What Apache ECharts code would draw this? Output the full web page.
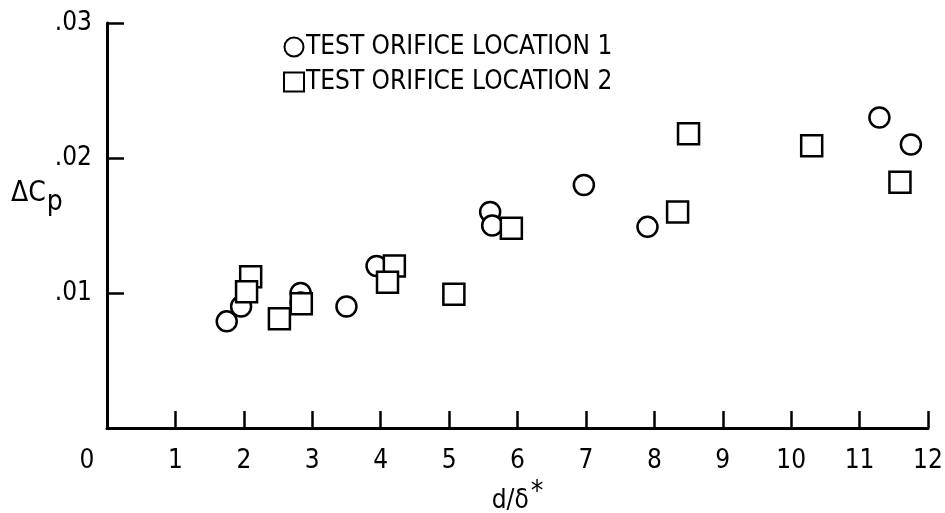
<!DOCTYPE html>
<html>
<head>
<meta charset="utf-8">
<script src="https://cdn.jsdelivr.net/npm/echarts@6/dist/echarts.min.js"></script>
<style>
  html, body { margin: 0; padding: 0; background: #fff; }
  #chart { width: 945px; height: 513px; }
</style>
</head>
<body>
<div id="chart"></div>
<script>
// test orifice location 1 (circles)
const loc1X = [1.75, 1.96, 2.83, 2.83, 3.5, 3.94, 5.6, 5.63, 6.97, 7.9, 11.29, 11.75]
const loc1Y = [0.0079, 0.0090, 0.0100, 0.0093, 0.0090, 0.0120, 0.0160, 0.0150, 0.0180, 0.0149, 0.0230, 0.0210]
// test orifice location 2 (squares)
const loc2X = [2.10, 2.04, 2.52, 2.84, 4.2, 4.1, 5.07, 5.91, 8.5, 8.34, 10.3, 11.59]
const loc2Y = [0.0112, 0.0101, 0.0081, 0.0092, 0.0120, 0.0108, 0.0099, 0.0148, 0.0218, 0.0160, 0.0209, 0.0182]
const seriesNames = ['TEST ORIFICE LOCATION 1', 'TEST ORIFICE LOCATION 2']

const font = '"Liberation Sans Narrow", "DejaVu Sans Condensed", sans-serif'
const pairs = (xs, ys) => xs.map((x, i) => [x, ys[i]])

const chart = echarts.init(document.getElementById('chart'))
const markStyle = { color: '#fff', borderColor: '#000', borderWidth: 2.5, opacity: 1 }

chart.setOption({
  backgroundColor: '#fff',
  animation: false,
  grid: { left: 107, right: 17, top: 23, bottom: 85, containLabel: false, outerBoundsMode: 'none' },
  legend: {
    orient: 'vertical',
    left: 278,
    top: 29,
    itemGap: 9,
    itemWidth: 20,
    itemHeight: 19,
    textStyle: { fontFamily: font, fontSize: 26, color: '#000', padding: [0, 0, 0, -3] },
    data: [
      { name: seriesNames[0], icon: 'circle' },
      { name: seriesNames[1], icon: 'rect' }
    ]
  },
  xAxis: {
    type: 'value',
    min: 0,
    max: 12,
    interval: 1,
    splitLine: { show: false },
    axisLine: { lineStyle: { color: '#000', width: 3 } },
    axisTick: { inside: true, length: 17, lineStyle: { color: '#000', width: 2.5 } },
    axisLabel: {
      margin: 20,
      color: '#000',
      fontFamily: font,
      fontSize: 26,
      formatter: v => v === 0 ? '{z|0}' : String(v),
      rich: { z: { fontFamily: font, fontSize: 26, color: '#000', padding: [0, 40, 0, 0] } }
    },
    name: 'd/δ{s|*}',
    nameLocation: 'middle',
    nameGap: 47,
    nameTextStyle: {
      fontFamily: font, fontSize: 26, color: '#000',
      rich: { s: { fontFamily: font, fontSize: 28, color: '#000', verticalAlign: 'top', padding: [0, 0, 16, 2] } }
    }
  },
  yAxis: {
    type: 'value',
    min: 0,
    max: 0.03,
    interval: 0.01,
    splitLine: { show: false },
    axisLine: { lineStyle: { color: '#000', width: 3 } },
    axisTick: { inside: true, length: 17, lineStyle: { color: '#000', width: 2.5 } },
    axisLabel: {
      margin: 15,
      color: '#000',
      fontFamily: font,
      fontSize: 26,
      formatter: v => v === 0 ? '' : v.toFixed(2).replace(/^0/, '')
    }
  },
  graphic: [
    {
      type: 'text',
      left: 11,
      top: 180,
      style: {
        text: 'ΔC{p|p}',
        fontFamily: font,
        fontSize: 28,
        fill: '#000',
        rich: { p: { fontFamily: font, fontSize: 28, fill: '#000', padding: [18, 0, 0, 1] } }
      }
    }
  ],
  series: [
    {
      name: seriesNames[0],
      type: 'scatter',
      symbol: 'circle',
      symbolSize: 20,
      itemStyle: markStyle,
      data: pairs(loc1X, loc1Y)
    },
    {
      name: seriesNames[1],
      type: 'scatter',
      symbol: 'rect',
      symbolSize: 21,
      itemStyle: markStyle,
      data: pairs(loc2X, loc2Y)
    }
  ]
})
</script>
</body>
</html>
